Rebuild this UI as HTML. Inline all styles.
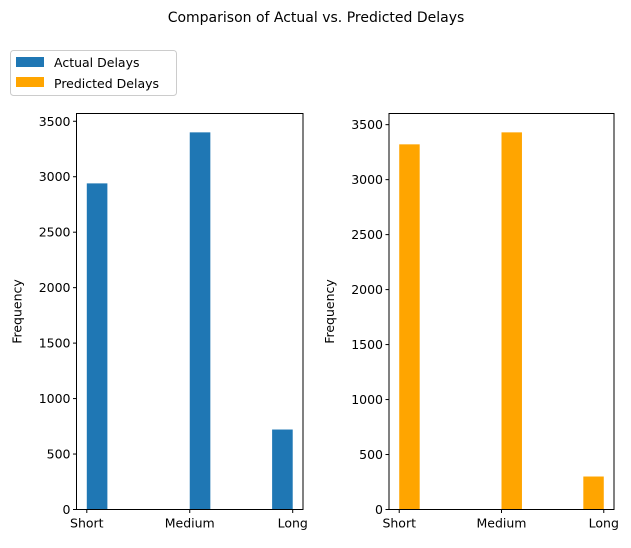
<!DOCTYPE html>
<html><head><meta charset="utf-8"><style>
body{margin:0;background:#fff;font-family:"Liberation Sans","DejaVu Sans",sans-serif}
svg text{font-family:"DejaVu Sans","Liberation Sans",sans-serif;fill:#000}
</style></head><body>
<svg id="c" width="631" height="543">
<text x="316" y="22" font-size="14" text-anchor="middle">Comparison of Actual vs. Predicted Delays</text>
<g>
<rect x="10.5" y="50.5" width="166" height="45" rx="3" fill="#fff" stroke="#ccc"/>
<rect x="16" y="57" width="28" height="10" fill="#1f77b4"/>
<text x="54" y="67" font-size="12.5">Actual Delays</text>
<rect x="16" y="77" width="28" height="10" fill="#ffa500"/>
<text x="54" y="88" font-size="12.5">Predicted Delays</text>
</g>
</svg>
<script>
const categories=["Short","Medium","Long"];
const catPos=[0,1,2];
const actualValues=[2940,3400,721];
const predictedValues=[3321,3430,300];
const binCenters=[0.1,1.1,1.9];
const yTicksLeft=[0,500,1000,1500,2000,2500,3000,3500];
const yTicksRight=[0,500,1000,1500,2000,2500,3000,3500];
const NS="http://www.w3.org/2000/svg",svg=document.getElementById('c');
function mk(t,a,p){const e=document.createElementNS(NS,t);for(const k in a)e.setAttribute(k,a[k]);(p||svg).appendChild(e);return e;}
function panel(x0,x1,y0,y1,vals,color,ticks,name){
 const g=mk('g',{});
 
 
 const ymax=Math.max(...vals)*1.05;
 const xs=v=>x0+(v+0.1)/2.2*(x1-x0);
 const ys=v=>y1-v/ymax*(y1-y0);
 vals.forEach((v,i)=>{
  const r=mk('rect',{x:xs(binCenters[i]-0.1),y:ys(v),width:xs(0.2)-xs(0),height:y1-ys(v),fill:color},g);
  
  
 });
 mk('rect',{x:x0,y:y0,width:x1-x0,height:y1-y0,fill:'none',stroke:'#000','stroke-width':1},g);
 ticks.forEach(t=>{
  const y=ys(t);
  mk('line',{x1:x0-3.5,x2:x0,y1:y,y2:y,stroke:'#000'},g);
  const tx=mk('text',{x:x0-6,y:y+4.5,'font-size':12.5,'text-anchor':'end'},g);tx.textContent=t;
  
  
 });
 catPos.forEach((c,i)=>{
  const x=xs(c);
  mk('line',{x1:x,x2:x,y1:y1,y2:y1+3.5,stroke:'#000'},g);
  const tx=mk('text',{x:x,y:y1+18,'font-size':12.5,'text-anchor':'middle'},g);tx.textContent=categories[i];
  
  
 });
 const yl=mk('text',{x:0,y:0,'font-size':12.5,'text-anchor':'middle',transform:`translate(${x0-55},${(y0+y1)/2}) rotate(-90)`},g);
 yl.textContent='Frequency';
 
 
}
panel(76.5,303,113.5,509.5,actualValues,'#1f77b4',yTicksLeft,'actual-panel');
panel(389,614,113.5,509.5,predictedValues,'#ffa500',yTicksRight,'predicted-panel');
</script>
</body></html>
